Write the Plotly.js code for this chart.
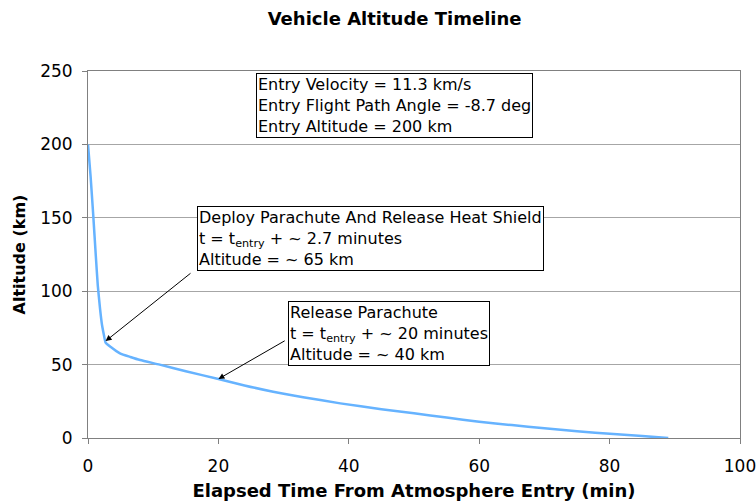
<!DOCTYPE html>
<html>
<head>
<meta charset="utf-8">
<script src="https://cdn.plot.ly/plotly-3.0.1.min.js"></script>
<style>html,body{margin:0;padding:0;background:#fff;}#chart{width:756px;height:501px;}</style>
</head>
<body>
<div id="chart"></div>
<script>
// Data
const timeMin = [0, 0.4, 0.8, 1.2, 1.5, 1.85, 2.15, 2.45, 2.7, 3.5, 4.9, 6.5, 8, 11, 15, 20, 24, 28.4, 33, 38.7, 45, 50, 55, 60, 65, 70, 75, 80.6, 85, 89];
const altitudeKm = [200, 178, 152, 124, 104, 88, 77, 70, 65, 62, 57.7, 55.2, 53.1, 50, 45.5, 40.2, 35.8, 31.5, 27.8, 23.6, 19.6, 16.8, 13.9, 11.1, 8.8, 6.6, 4.6, 2.7, 1.3, 0];

const xTicks = [0, 20, 40, 60, 80, 100];
const yTicks = [0, 50, 100, 150, 200, 250];

const eventTimes = [2.7, 20];
const eventAlts = [66, 40.2];
const arrowTailTimes = [15.95, 30.4];
const arrowTailAlts = [113, 66.8];

const infoText = "Entry Velocity = 11.3 km/s<br>Entry Flight Path Angle = -8.7 deg<br>Entry Altitude = 200 km";
const event1Text = "Deploy Parachute And Release Heat Shield<br>t = t<sub>entry</sub> + ~ 2.7 minutes<br>Altitude = ~ 65 km";
const event2Text = "Release Parachute<br>t = t<sub>entry</sub> + ~ 20 minutes<br>Altitude = ~ 40 km";

const font = "DejaVu Sans, Verdana, sans-serif";

const trace = {
  x: timeMin, y: altitudeKm, type: 'scatter', mode: 'lines',
  line: {color: '#66b3ff', width: 2.5, shape: 'spline', smoothing: 0.5}, hoverinfo: 'skip', showlegend: false
};

const boxStyle = {
  showarrow: false, xanchor: 'left', yanchor: 'top', align: 'left',
  bgcolor: '#ffffff', bordercolor: '#000000', borderwidth: 1, borderpad: 1,
  font: {family: font, size: 16, color: '#000'}
};

const annotations = [
  Object.assign({}, boxStyle, {x: 25.8, y: 248.6, xref: 'x', yref: 'y', text: infoText}),
  Object.assign({}, boxStyle, {x: 16.7, y: 158, xref: 'x', yref: 'y', text: event1Text}),
  Object.assign({}, boxStyle, {x: 30.7, y: 93.3, xref: 'x', yref: 'y', text: event2Text})
];
for (let i = 0; i < eventTimes.length; i++) {
  annotations.push({
    x: eventTimes[i], y: eventAlts[i], xref: 'x', yref: 'y',
    ax: arrowTailTimes[i], ay: arrowTailAlts[i], axref: 'x', ayref: 'y',
    text: '', showarrow: true, arrowhead: 2, arrowsize: 1.2, arrowwidth: 1, arrowcolor: '#000'
  });
}

const layout = {
  width: 756, height: 501,
  margin: {l: 88, r: 16, t: 71, b: 63},
  paper_bgcolor: '#fff', plot_bgcolor: '#fff',
  font: {family: font, size: 17, color: '#000'},
  title: {text: '<b>Vehicle Altitude Timeline</b>', font: {family: font, size: 18, color: '#000'},
          x: 0.522, xref: 'container', y: 0.962, yref: 'container', yanchor: 'middle'},
  xaxis: {
    range: [0, 100], tickvals: xTicks, ticktext: xTicks.map(String),
    showgrid: false, zeroline: false, showline: true, linecolor: '#808080', linewidth: 1,
    mirror: true, ticks: 'outside', ticklen: 5, tickcolor: '#808080', ticklabelstandoff: 8,
    ticklabeloverflow: 'allow',
    tickfont: {family: font, size: 17, color: '#000'},
    title: {text: '<b>Elapsed Time From Atmosphere Entry (min)</b>', font: {family: font, size: 18, color: '#000'}, standoff: 8}
  },
  yaxis: {
    range: [0, 250], tickvals: yTicks, ticktext: yTicks.map(String),
    showgrid: true, gridcolor: '#a6a6a6', gridwidth: 1, zeroline: false,
    showline: true, linecolor: '#808080', linewidth: 1, mirror: true,
    ticks: 'outside', ticklen: 5, tickcolor: '#808080', ticklabelstandoff: 6,
    ticklabeloverflow: 'allow',
    tickfont: {family: font, size: 17, color: '#000'},
    title: {text: '<b>Altitude (km)</b>', font: {family: font, size: 16, color: '#000'}, standoff: 10}
  },
  annotations: annotations
};

Plotly.newPlot('chart', [trace], layout, {displayModeBar: false, staticPlot: true});
</script>
</body>
</html>
